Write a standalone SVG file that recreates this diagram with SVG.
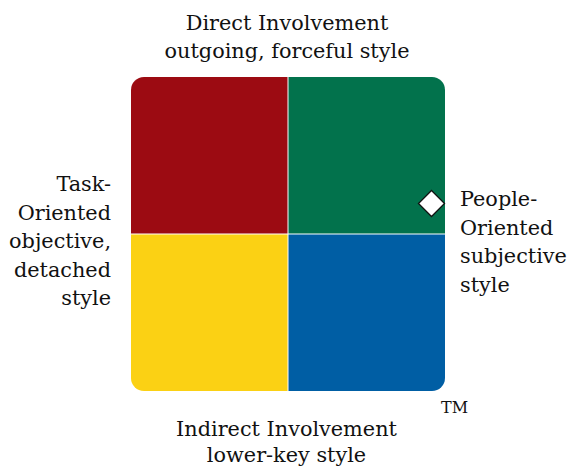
<svg xmlns="http://www.w3.org/2000/svg" width="577" height="468" viewBox="0 0 577 468">
<style>
text{font-family:"DejaVu Serif","Liberation Serif",serif;font-size:20.8px;fill:#111}
.c{text-anchor:middle}
.r{text-anchor:end}
.tm{font-size:16px}
</style>
<defs>
<clipPath id="sq"><rect x="131" y="77" width="314" height="314" rx="13" ry="13"/></clipPath>
</defs>
<rect width="577" height="468" fill="#fff"/>
<g clip-path="url(#sq)">
<g id="q-red"><rect x="131" y="77" width="156.5" height="156.5" fill="#9C0B12"/></g>
<g id="q-green"><rect x="288.5" y="77" width="156.5" height="156.5" fill="#02724C"/></g>
<g id="q-yellow"><rect x="131" y="234.5" width="156.5" height="156.5" fill="#FBD114"/></g>
<g id="q-blue"><rect x="288.5" y="234.5" width="156.5" height="156.5" fill="#005EA4"/></g>
</g>
<g id="marker"><polygon points="431.5,190.5 444.5,203.5 431.5,216.5 418.5,203.5" fill="#fff" stroke="#111" stroke-width="1.3"/></g>
<g id="top-label">
<text class="c" x="287" y="30">Direct Involvement</text>
<text class="c" x="287" y="58">outgoing, forceful style</text>
</g>
<g id="left-label">
<text class="r" x="111" y="191">Task-</text>
<text class="r" x="111" y="219.5">Oriented</text>
<text class="r" x="111" y="248">objective,</text>
<text class="r" x="111" y="276.5">detached</text>
<text class="r" x="111" y="305">style</text>
</g>
<g id="right-label">
<text x="460" y="206">People-</text>
<text x="460" y="234.5">Oriented</text>
<text x="460" y="263">subjective</text>
<text x="460" y="291.5">style</text>
</g>
<g id="bottom-label">
<text class="c" x="286.5" y="436">Indirect Involvement</text>
<text class="c" x="286.5" y="462">lower-key style</text>
</g>
<text class="tm" x="441" y="413">TM</text>
</svg>
